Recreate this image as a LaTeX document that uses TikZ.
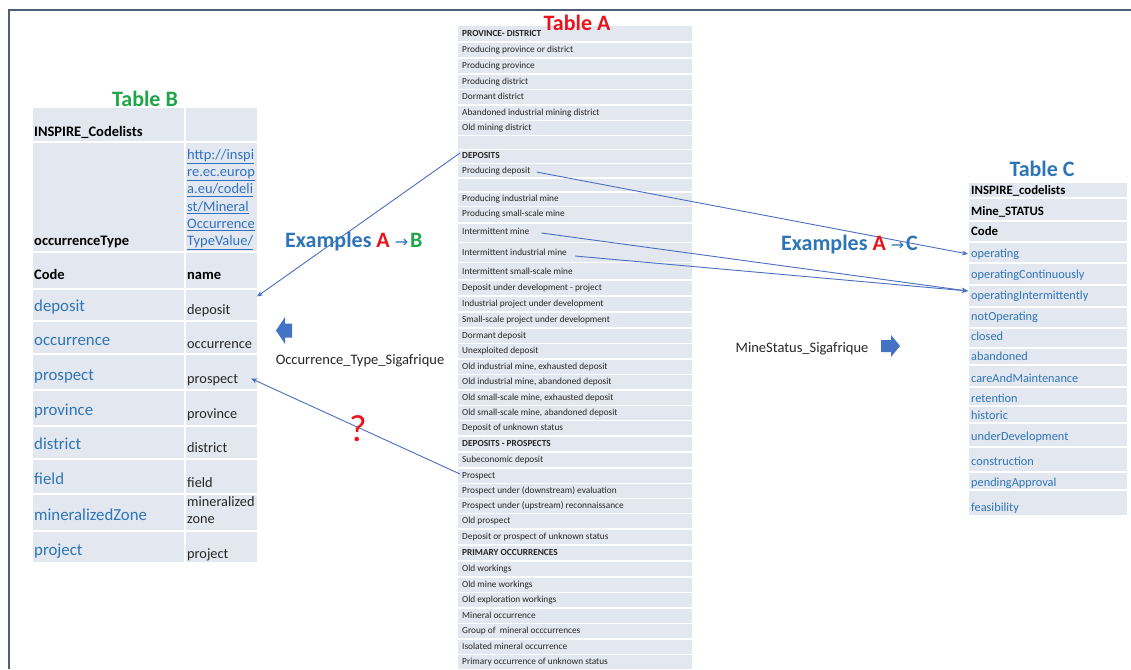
\documentclass[tikz,border=0pt]{standalone}
\usepackage{fontspec}
\setmainfont{Carlito}
\newfontfamily\symfont{DejaVu Sans}
\usetikzlibrary{calc,arrows.meta}

\definecolor{framecol}{HTML}{4D5F78}
\definecolor{cellbg}{HTML}{E3E7EF}
\definecolor{codeblue}{HTML}{2E75B6}
\definecolor{linkblue}{HTML}{2F72C2}
\definecolor{linecol}{HTML}{4A6EC0}
\definecolor{arrowfill}{HTML}{4472C4}
\definecolor{titlered}{HTML}{E8141C}
\definecolor{titlegreen}{HTML}{1FA64A}
\definecolor{titleblue}{HTML}{2E75B6}
\definecolor{darktext}{HTML}{262626}

\newcommand{\maparrow}{\hspace{5pt}{\symfont\fontsize{16}{18}\selectfont\mdseries →}\hspace{2pt}}

\begin{document}
\begin{tikzpicture}[x=1pt,y=-1pt,
  fixh/.style={text height=0.72em, text depth=0.2em},
  rowA/.style={anchor=west, inner sep=0pt, fixh, text=darktext, font=\fontsize{9.3}{11}\selectfont},
  codeB/.style={anchor=west, inner sep=0pt, fixh, text=codeblue, font=\fontsize{16.8}{20}\selectfont},
  nameB/.style={anchor=west, inner sep=0pt, fixh, text=darktext, font=\fontsize{14.3}{17}\selectfont},
  headB/.style={anchor=west, inner sep=0pt, fixh, text=black, font=\fontsize{14.5}{17}\selectfont\bfseries},
  codeC/.style={anchor=west, inner sep=0pt, fixh, text=codeblue, font=\fontsize{12.3}{15}\selectfont},
  headC/.style={anchor=west, inner sep=0pt, fixh, text=black, font=\fontsize{12.8}{15}\selectfont\bfseries},
  tabletitle/.style={anchor=base, inner sep=0pt, font=\fontsize{22}{26}\selectfont\bfseries},
  example/.style={anchor=west, inner sep=0pt, text=codeblue, font=\fontsize{22}{26}\selectfont\bfseries},
  lbl/.style={inner sep=0pt, text=darktext, font=\fontsize{14.5}{17}\selectfont},
  sep/.style={draw=white, line width=1.4pt},
  map/.style={draw=linecol, line width=0.9pt, -{Stealth[length=6pt,width=5pt]}}
]
\useasboundingbox (0,0) rectangle (1131,669);
\fill[white] (0,0) rectangle (1131,669);

% slide frame
\draw[framecol, line width=2.2pt, line join=miter] (9,669) -- (9,10) -- (1131,10);

% ---------- Table A : Sigafrique classes ----------
\fill[cellbg] (458,26) rectangle (692,669);
\foreach \y in {42,58,74,89.5,105,120.5,135.5,149.5,163.5,178,192,206.5,223,242.5,262.5,
  280,296,312,328,343.5,359,374.5,390,405.5,420.5,436,452,468,483.5,498.5,513.5,529,545,
  561,577,592.5,608,623.5,639,654.5}
  \draw[sep] (458,\y) -- (692,\y);
\foreach \y/\t [count=\i] in {
  34/\bfseries PROVINCE- DISTRICT,
  50/Producing province or district,
  66/Producing province,
  82/Producing district,
  97/Dormant district,
  113/Abandoned industrial mining district,
  128/Old mining district,
  156/\bfseries DEPOSITS,
  171/Producing deposit,
  199/Producing industrial mine,
  214/Producing small-scale mine,
  232/Intermittent mine,
  253/Intermittent industrial mine,
  272/Intermittent small-scale mine,
  288/Deposit under development - project,
  304/Industrial project under development,
  320/Small-scale project under development,
  336/Dormant deposit,
  351/Unexploited deposit,
  367/{Old industrial mine, exhausted deposit},
  382/{Old industrial mine, abandoned deposit},
  398/{Old small-scale mine, exhausted deposit},
  413/{Old small-scale mine, abandoned deposit},
  428/Deposit of unknown status,
  444/\bfseries DEPOSITS - PROSPECTS,
  460/Subeconomic deposit,
  476/Prospect,
  491/Prospect under (downstream) evaluation,
  506/Prospect under (upstream) reconnaissance,
  521/Old prospect,
  537/Deposit or prospect of unknown status,
  553/\bfseries PRIMARY OCCURRENCES,
  569/Old workings,
  585/Old mine workings,
  600/Old exploration workings,
  616/Mineral occurrence,
  631/Group of\ \ mineral occcurrences,
  647/Isolated mineral occurrence,
  662/Primary occurrence of unknown status}
  \node[rowA] (a\i) at (462,\y) {\t};
\node[tabletitle, text=titlered] (tA) at (577,31) {Table A};

% ---------- Table B : INSPIRE occurrenceType ----------
\fill[cellbg] (33,108) rectangle (257,562);
\draw[white, line width=2pt] (185,108) -- (185,562);
\foreach \y in {142,252,289,321,354,390,426,459,494,531}
  \draw[white, line width=2pt] (33,\y) -- (257,\y);
\node[tabletitle, text=titlegreen] (tB) at (145,106) {Table B};
\node[headB] (bh1) at (34,134) {INSPIRE\_Codelists};
\node[headB] (bh2) at (34,243) {occurrenceType};
\node[anchor=north west, inner sep=0pt, align=left, text=linkblue,
      font=\fontsize{14.5}{17.3}\selectfont] (burl) at (187,149)
  {\underline{http://inspi}\\\underline{re.ec.europ}\\\underline{a.eu/codeli}\\
   \underline{st/Mineral}\\\underline{Occurrence}\\\underline{TypeValue/}};
\node[headB] (bh3) at (34,277) {Code};
\node[headB] (bh4) at (187,277) {name};
\foreach \y/\w [count=\k] in {309/deposit,343/occurrence,378/prospect,413/province,
  447/district,482/field}{
  \node[codeB] (bc\k) at (34,\y) {\w};
  \node[nameB] (bn\k) at (187,\y+2.5) {\w};
}
\node[codeB] (bc7) at (34,518) {mineralizedZone};
\node[anchor=north west, inner sep=0pt, align=left, text=darktext,
      font=\fontsize{14.3}{17}\selectfont] (bn7) at (187,496) {mineralized\\zone};
\node[codeB] (bc8) at (34,553) {project};
\node[nameB] (bn8) at (187,555.5) {project};

% ---------- Table C : INSPIRE Mine_STATUS ----------
\fill[cellbg] (969,183) rectangle (1127,515);
\foreach \y in {198,221,242,263,285,307,328,348,365,387,406,423,447,472,490}
  \draw[sep] (969,\y) -- (1127,\y);
\node[tabletitle, text=titleblue] (tC) at (1042,176) {Table C};
\node[headC] (c1) at (971,192) {INSPIRE\_codelists};
\node[headC] (c2) at (971,213) {Mine\_STATUS};
\node[headC] (c3) at (971,233) {Code};
\foreach \y/\w [count=\k from 4] in {255/operating,276/operatingContinuously,
  297/operatingIntermittently,318/notOperating,338/closed,358/abandoned,
  380/careAndMaintenance,400/retention,417/historic,438/underDevelopment,
  463/construction,484/pendingApproval,509/feasibility}
  \node[codeC] (c\k) at (971,\y) {\w};

% ---------- mappings ----------
\draw[map] ($(a8.west)+(-2,-3)$) -- ($(bn1.west)+(70,-15)$);
\draw[map] ($(a27.west)+(-2,-2)$) -- ($(bn3.west)+(64,-2)$);
\draw[map] ($(a9.east)+(6,1)$) -- ($(c4.west)+(-3,-1)$);
\draw[map] ($(a12.east)+(12,1)$) -- ($(c6.west)+(-3,-6)$);
\draw[map] ($(a13.east)+(8,3)$) -- ($(c6.west)+(-3,-6)$);

% ---------- captions ----------
\node[example] (exAB) at (285,242)
  {Examples \textcolor{titlered}{A}\maparrow\textcolor{titlegreen}{B}};
\node[example] (exAC) at (781,245)
  {Examples \textcolor{titlered}{A}\maparrow C};

\fill[arrowfill] (276,330.5) -- (285,317) -- (285,323.5) -- (292,323.5) -- (292,337.5)
  -- (285,337.5) -- (285,344) -- cycle;
\node[lbl] (occlbl) at (360,361) {Occurrence\_Type\_Sigafrique};

\node[lbl] (minelbl) at (802,349) {MineStatus\_Sigafrique};
\fill[arrowfill] (900,346) -- (891,335) -- (891,340) -- (881,340) -- (881,352)
  -- (891,352) -- (891,357) -- cycle;

\node[inner sep=0pt, text=titlered, font=\fontsize{38}{44}\selectfont] (q) at (358,429) {?};
\end{tikzpicture}
\end{document}
